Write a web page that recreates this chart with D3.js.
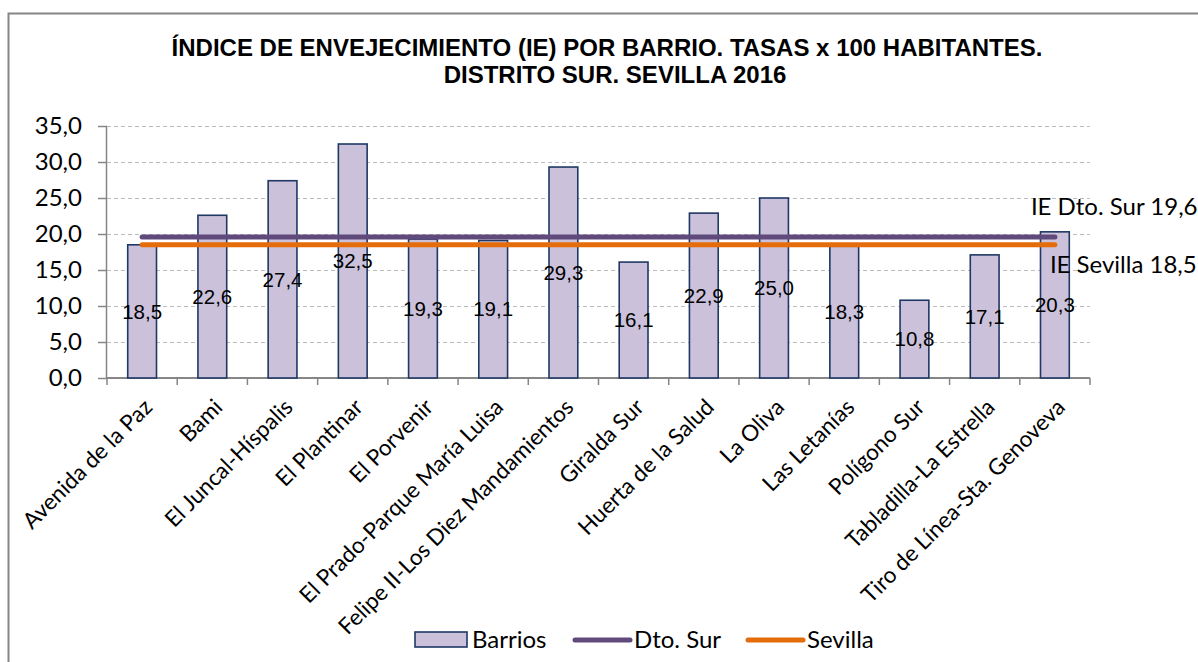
<!DOCTYPE html>
<html>
<head>
<meta charset="utf-8">
<script src="https://cdn.jsdelivr.net/npm/d3@7"></script>
<style>
  body { margin: 0; background: #fff; }
  svg { display: block; }
</style>
</head>
<body>
<script>
// data
const barrios = ['Avenida de la Paz', 'Bami', 'El Juncal-Híspalis', 'El Plantinar', 'El Porvenir',
  'El Prado-Parque María Luisa', 'Felipe II-Los Diez Mandamientos', 'Giralda Sur', 'Huerta de la Salud',
  'La Oliva', 'Las Letanías', 'Polígono Sur', 'Tabladilla-La Estrella', 'Tiro de Línea-Sta. Genoveva'];
const ieBarrios = [18.5, 22.6, 27.4, 32.5, 19.3, 19.1, 29.3, 16.1, 22.9, 25.0, 18.3, 10.8, 17.1, 20.3];
const ieDtoSur = 19.6;
const ieSevilla = 18.5;
const yTicks = [0, 5, 10, 15, 20, 25, 30, 35];
const titleLines = ['ÍNDICE DE ENVEJECIMIENTO (IE) POR BARRIO. TASAS x 100 HABITANTES.',
  'DISTRITO SUR. SEVILLA 2016'];

const W = 1198, H = 662;
const margin = { left: 107, right: 108, top: 126, bottom: 284 };
const width = W - margin.left - margin.right;   // plot width
const height = H - margin.top - margin.bottom;  // plot height

const locale = d3.formatLocale({ decimal: ',', thousands: '.', grouping: [3], currency: ['', '€'] });
const fmt = locale.format('.1f');

const sans = 'Lato, "Noto Sans", sans-serif';
const arial = '"Liberation Sans", Arial, sans-serif';
const barFill = '#ccc1da', barStroke = '#1f3864';

const svg = d3.select('body').append('svg')
  .attr('width', W)
  .attr('height', H);

// chart frame (runs off the right and bottom edge like the source)
svg.append('rect')
  .attr('x', 8.5).attr('y', 13.5)
  .attr('width', W + 20).attr('height', H + 20)
  .attr('fill', 'none')
  .attr('stroke', '#868686')
  .attr('stroke-width', 2);

/* title, each line centred on its own */
svg.append('g')
  .attr('font-family', arial)
  .attr('font-weight', 'bold')
  .attr('font-size', 24)
  .attr('text-anchor', 'middle')
  .selectAll('text')
  .data(titleLines)
  .enter().append('text')
  .attr('x', (d, i) => i === 0 ? 607 : 615)
  .attr('y', (d, i) => 56 + i * 27)
  .text(d => d);

const g = svg.append('g')
  .attr('transform', `translate(${margin.left},${margin.top})`);

/* scales */
const x = d3.scaleBand()
  .domain(barrios)
  .range([0, width])
  .paddingInner(0.59)
  .paddingOuter(0.295);

const y = d3.scaleLinear()
  .domain([0, 35])
  .range([height, 0]);

/* gridlines */
g.append('g')
  .selectAll('line')
  .data(yTicks.filter(d => d > 0))
  .enter().append('line')
  .attr('x1', 0).attr('x2', width)
  .attr('y1', d => Math.round(y(d)) + 0.5)
  .attr('y2', d => Math.round(y(d)) + 0.5)
  .attr('stroke', '#bdbdbd')
  .attr('stroke-width', 1.2)
  .attr('stroke-dasharray', '4,3');

/* y axis */
const yAxis = d3.axisLeft(y)
  .tickValues(yTicks)
  .tickSize(9)
  .tickPadding(16)
  .tickFormat(fmt);

const yg = g.append('g').call(yAxis);
yg.select('.domain').attr('stroke', '#868686').attr('stroke-width', 1.5).attr('d', `M-0.5,0V${height}`);
yg.selectAll('.tick line').attr('stroke', '#868686').attr('stroke-width', 1.5);
yg.selectAll('.tick text')
  .attr('font-family', sans)
  .attr('font-size', 24)
  .attr('fill', '#000');

/* x axis: ticks at category boundaries */
const boundaries = d3.range(barrios.length + 1).map(i => i * x.step());
const xg = g.append('g').attr('transform', `translate(0,${height})`);
xg.append('line')
  .attr('x1', 0).attr('x2', width)
  .attr('y1', 0).attr('y2', 0)
  .attr('stroke', '#868686').attr('stroke-width', 2);
xg.selectAll('.xtick')
  .data(boundaries)
  .enter().append('line')
  .attr('x1', d => d).attr('x2', d => d)
  .attr('y1', 0).attr('y2', 7)
  .attr('stroke', '#868686').attr('stroke-width', 1.5);

xg.selectAll('.xlabel')
  .data(barrios)
  .enter().append('text')
  .attr('transform', d => `translate(${x(d) + x.bandwidth() / 2 + 6},${25}) rotate(-45)`)
  .attr('text-anchor', 'end')
  .attr('dy', '0.35em')
  .attr('font-family', sans)
  .attr('font-size', 22.5)
  .attr('fill', '#000')
  .text(d => d);

/* bars */
g.append('g')
  .selectAll('rect')
  .data(ieBarrios)
  .enter().append('rect')
  .attr('x', (d, i) => x(barrios[i]))
  .attr('y', d => y(d))
  .attr('width', x.bandwidth())
  .attr('height', d => height - y(d))
  .attr('fill', barFill)
  .attr('stroke', barStroke)
  .attr('stroke-width', 1.6);

/* reference lines, from first to last category centre */
const first = x(barrios[0]) + x.bandwidth() / 2;
const last = x(barrios[barrios.length - 1]) + x.bandwidth() / 2;
const refs = [
  { value: ieDtoSur, color: '#604a7b' },
  { value: ieSevilla, color: '#e46c0a' }
];
g.append('g')
  .selectAll('line')
  .data(refs)
  .enter().append('line')
  .attr('x1', first).attr('x2', last)
  .attr('y1', d => y(d.value)).attr('y2', d => y(d.value))
  .attr('stroke', d => d.color)
  .attr('stroke-width', 5)
  .attr('stroke-linecap', 'round');

/* bar value labels, centred in bar */
g.append('g')
  .selectAll('text')
  .data(ieBarrios)
  .enter().append('text')
  .attr('x', (d, i) => x(barrios[i]) + x.bandwidth() / 2)
  .attr('y', d => (y(d) + height) / 2)
  .attr('dy', '0.35em')
  .attr('text-anchor', 'middle')
  .attr('font-family', arial)
  .attr('font-size', 20.5)
  .attr('fill', '#000')
  .text(d => fmt(d));

/* annotations for reference lines */
g.append('text')
  .attr('x', last - 24).attr('y', y(ieDtoSur) - 22)
  .attr('font-family', sans)
  .attr('font-size', 24)
  .attr('fill', '#000')
  .text('IE Dto. Sur ' + fmt(ieDtoSur));
g.append('text')
  .attr('x', last - 5).attr('y', y(ieSevilla) + 28)
  .attr('font-family', sans)
  .attr('font-size', 24)
  .attr('fill', '#000')
  .text('IE Sevilla ' + fmt(ieSevilla));

/* legend */
const legend = svg.append('g')
  .attr('font-family', sans)
  .attr('font-size', 24)
  .attr('fill', '#000');
legend.append('rect')
  .attr('x', 415).attr('y', 632)
  .attr('width', 52).attr('height', 15)
  .attr('fill', barFill)
  .attr('stroke', barStroke)
  .attr('stroke-width', 1.6);
legend.append('text').attr('x', 472).attr('y', 648).text('Barrios');

const legendLines = [
  { x: 575, label: 'Dto. Sur', color: '#604a7b' },
  { x: 748, label: 'Sevilla', color: '#e46c0a' }
];
legendLines.forEach(l => {
  legend.append('line')
    .attr('x1', l.x).attr('x2', l.x + 55)
    .attr('y1', 640).attr('y2', 640)
    .attr('stroke', l.color)
    .attr('stroke-width', 5)
    .attr('stroke-linecap', 'round');
  legend.append('text').attr('x', l.x + 59).attr('y', 648).text(l.label);
});
</script>
</body>
</html>
